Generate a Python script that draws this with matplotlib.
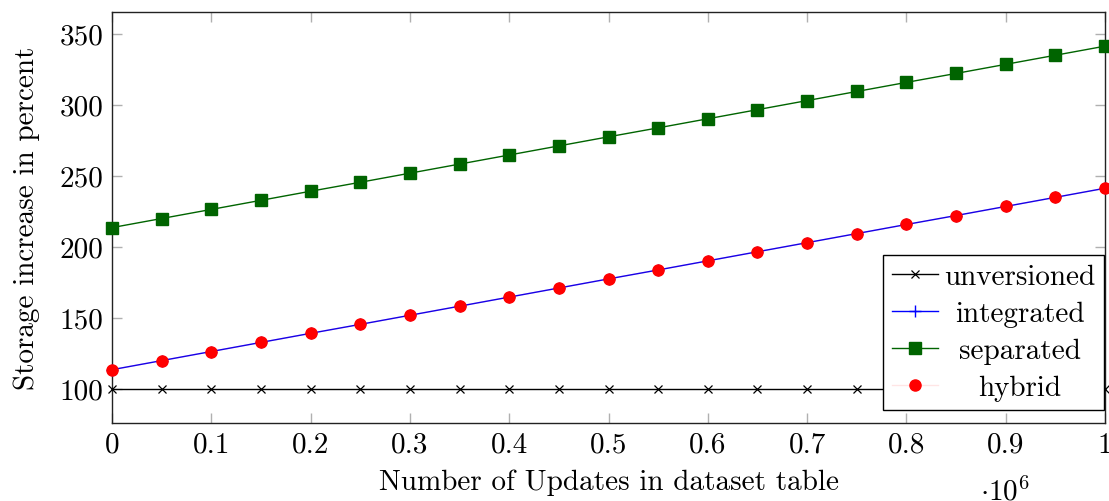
import matplotlib
matplotlib.use("Agg")
import matplotlib.pyplot as plt

plt.rcParams['font.family'] = ['cmr10', 'DejaVu Serif']
plt.rcParams['mathtext.fontset'] = 'cm'
plt.rcParams['axes.formatter.use_mathtext'] = True

x_updates = [0, 50000, 100000, 150000, 200000, 250000, 300000, 350000, 400000, 450000,
             500000, 550000, 600000, 650000, 700000, 750000, 800000, 850000, 900000, 950000, 1000000]
unversioned = [100] * 21
separated = [213.4, 219.8, 226.2, 232.6, 239.0, 245.3, 251.7, 258.1, 264.5, 270.9,
             277.3, 283.6, 290.0, 296.4, 302.8, 309.2, 315.6, 321.9, 328.3, 334.7, 341.1]
integrated = [113.4, 119.8, 126.2, 132.6, 139.0, 145.3, 151.7, 158.1, 164.5, 170.9,
              177.3, 183.6, 190.0, 196.4, 202.8, 209.2, 215.6, 221.9, 228.3, 234.7, 241.1]
hybrid = [113.4, 119.8, 126.2, 132.6, 139.0, 145.3, 151.7, 158.1, 164.5, 170.9,
          177.3, 183.6, 190.0, 196.4, 202.8, 209.2, 215.6, 221.9, 228.3, 234.7, 241.1]

xticks = [0, 100000, 200000, 300000, 400000, 500000, 600000, 700000, 800000, 900000, 1000000]
xtick_labels = ['0', '0.1', '0.2', '0.3', '0.4', '0.5', '0.6', '0.7', '0.8', '0.9', '1']
yticks = [100, 150, 200, 250, 300, 350]

FS = 21

fig = plt.figure(figsize=(11.09, 5.02), dpi=100)
ax = fig.add_axes([0.101, 0.1554, 0.8954, 0.8186])

ax.plot(x_updates, unversioned, color='black', lw=1.0, marker='x', ms=5.5, mew=0.9,
        label='unversioned', clip_on=False, zorder=3)
ax.plot(x_updates, integrated, color='blue', lw=1.0, marker='+', ms=8, mew=1.0,
        label='integrated', clip_on=False, zorder=3)
ax.plot(x_updates, separated, color='#006400', lw=1.0, marker='s', ms=8,
        label='separated', clip_on=False, zorder=3)
ax.plot(x_updates, hybrid, color=(1, 0, 0, 0.1), lw=1.0, marker='o', ms=8,
        mfc='red', mec='red', label='hybrid', clip_on=False, zorder=4)

ax.set_xlim(0, 1000000)
ax.set_ylim(75.9, 365.1)
ax.set_xticks(xticks)
ax.set_xticklabels(xtick_labels)
ax.set_yticks(yticks)
ax.set_yticklabels([str(v) for v in yticks])

ax.tick_params(direction='in', length=7, width=1, color='#b0b0b0', labelsize=FS,
               top=True, right=True, pad=6)
for s in ax.spines.values():
    s.set_color('#222222')
    s.set_linewidth(1.0)

ax.set_xlabel('Number of Updates in dataset table', fontsize=FS, labelpad=8)
ax.set_ylabel('Storage increase in percent', fontsize=FS, labelpad=14)
ax.text(0.874, -0.165, r'$\cdot 10^6$', transform=ax.transAxes, fontsize=FS,
        ha='left', va='center')

leg = ax.legend(loc='lower right', bbox_to_anchor=(0.999, 0.032), borderaxespad=0,
                fancybox=False, edgecolor='black', framealpha=1, fontsize=FS,
                handlelength=1.6, handletextpad=0.2, labelspacing=0.36, borderpad=0.3)
leg.get_frame().set_linewidth(1.0)

# center legend labels like pgfplots
fig.canvas.draw()
renderer = fig.canvas.get_renderer()
texts = leg.get_texts()
widths = [t.get_window_extent(renderer).width for t in texts]
W = max(widths)
for t, w in zip(texts, widths):
    t.set_x((W - w) / 2)

fig.savefig('out.png', dpi=100)
